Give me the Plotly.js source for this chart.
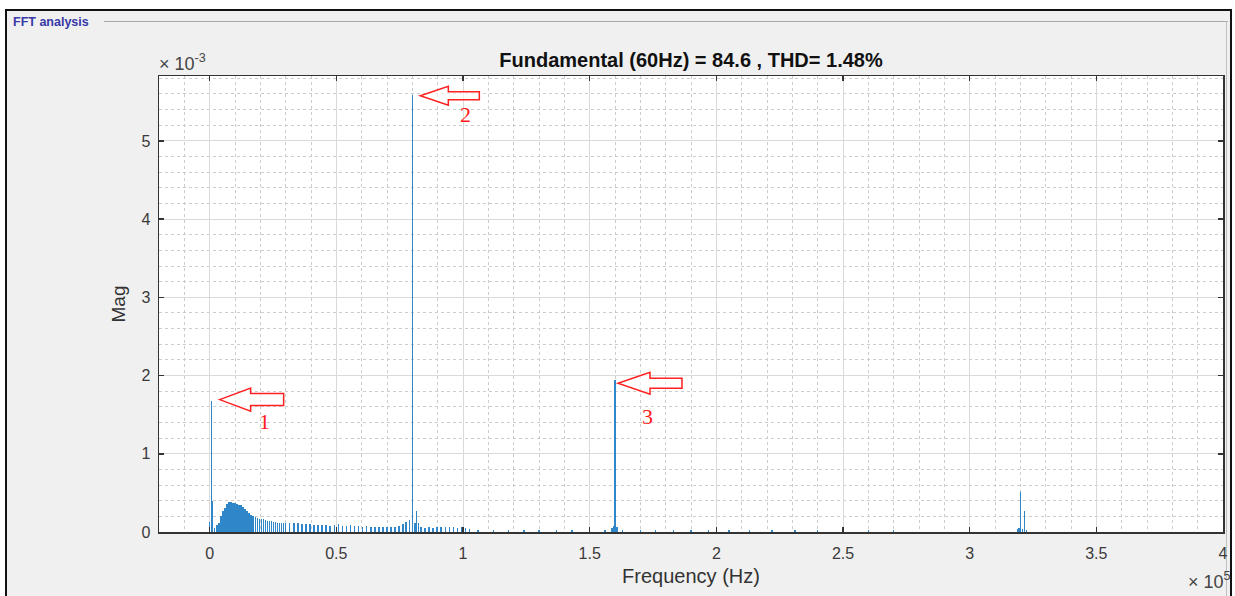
<!DOCTYPE html>
<html>
<head>
<meta charset="utf-8">
<script src="https://cdn.plot.ly/plotly-3.0.1.min.js"></script>
<style>
  html, body { margin: 0; padding: 0; background: #ffffff; width: 1235px; height: 596px; overflow: hidden; }
  #frame { position: absolute; left: 5px; top: 9px; width: 1223px; height: 600px;
           border-top: 2px solid #111; border-left: 2px solid #111; border-right: 2px solid #111;
           background: #f0f0f0; }
  #gline { position: absolute; left: 104px; top: 21px; width: 1124px; height: 1px; background: #a8a8a8; }
  #vline { position: absolute; left: 1226px; top: 21px; width: 1px; height: 580px; background: #c0c0c0; }
  #chart { position: absolute; left: 0; top: 0; width: 1235px; height: 596px; }
</style>
</head>
<body>
<div id="frame"></div>
<div id="gline"></div>
<div id="vline"></div>
<div id="chart"></div>
<script>
// ---- Data (frequency in Hz, magnitude in units of 1e-3) ----
const freqHz = [
  0, 780, 1200, 2000, 2800, 3600, 4400, 5200, 6000, 6800, 7600, 8400, 9200, 10000,
  10800, 11600, 12400, 13200, 14000, 14800, 15600, 16400, 17200, 18000, 18800, 19600,
  20400, 21200, 22000, 22800, 23600, 24400, 25200, 26000, 26800, 27600, 28400, 29200,
  30000, 31600, 33200, 34800, 36400, 38000, 39600, 41200, 42800, 44400, 46000, 47600,
  49200, 50800, 52400, 54000, 55600, 57200, 58800, 60400, 62000, 63600, 65200, 66800,
  68400, 70000, 71600, 73200, 74800, 76400, 77600, 78800, 80000, 81000, 81600, 82400,
  83400, 85000, 86600, 88200, 89800, 91400, 93000, 94600, 96200, 97800, 99400, 101000,
  102600, 106000, 112000, 118000, 124000, 130000, 137000, 143000, 150000, 156000,
  158800, 159400, 160000, 160800, 163000, 170000, 176000, 183000, 190000, 197000,
  205000, 213000, 222000, 231000, 240000, 250000, 260000, 270000,
  318800, 319400, 320000, 320800, 321600, 322400
];
const magE3 = [
  0.13, 1.68, 0.40, 0.05, 0.09, 0.12, 0.20, 0.27, 0.31, 0.36, 0.38, 0.38, 0.37, 0.37,
  0.36, 0.35, 0.34, 0.32, 0.30, 0.27, 0.24, 0.22, 0.20, 0.19, 0.18, 0.17,
  0.16, 0.16, 0.15, 0.14, 0.14, 0.14, 0.13, 0.13, 0.12, 0.12, 0.12, 0.12,
  0.11, 0.11, 0.11, 0.11, 0.10, 0.10, 0.10, 0.09, 0.09, 0.09, 0.09, 0.08,
  0.09, 0.10, 0.08, 0.08, 0.09, 0.08, 0.08, 0.07, 0.08, 0.07, 0.07, 0.06,
  0.06, 0.07, 0.06, 0.07, 0.08, 0.10, 0.13, 0.15, 5.59, 0.12, 0.27, 0.12,
  0.06, 0.05, 0.06, 0.05, 0.06, 0.07, 0.06, 0.07, 0.06, 0.05, 0.06, 0.05,
  0.04, 0.03, 0.02, 0.03, 0.02, 0.03, 0.02, 0.03, 0.02, 0.03,
  0.05, 0.08, 1.94, 0.06, 0.03, 0.03, 0.02, 0.03, 0.02, 0.02,
  0.02, 0.02, 0.02, 0.02, 0.02, 0.02, 0.02, 0.02,
  0.04, 0.05, 0.51, 0.04, 0.27, 0.03
];
const xTickVals = [0, 50000, 100000, 150000, 200000, 250000, 300000, 350000, 400000];
const xTickText = ['0', '0.5', '1', '1.5', '2', '2.5', '3', '3.5', '4'];
const yTickVals = [0, 1, 2, 3, 4, 5];
const yTickText = ['0', '1', '2', '3', '4', '5'];
const titleText = 'Fundamental (60Hz) = 84.6 , THD= 1.48%';
// marked peaks (indices into the data) and their labels
const markedIdx = [1, 70, 98];
const markLabels = ['1', '2', '3'];

// ---- Layout geometry ----
const W = 1235, H = 596;
const M = { l: 159, r: 12, t: 76, b: 64 };
const xRange = [-20000, 400000];
const yRange = [0, 5.83];
const pw = W - M.l - M.r, ph = H - M.t - M.b;
const xPerPx = (xRange[1] - xRange[0]) / pw;
const yPerPx = (yRange[1] - yRange[0]) / ph;

// arrow geometry in pixels relative to the peak top: [tipDx, tipDy, headLen, headHalf, shaftHalf, totalLen, labelDx, labelDy]
const arrowGeo = [
  [8, -1, 31, 11.5, 6, 64, 45, 22],
  [8, 1, 28, 9.5, 4, 59, 45, 19],
  [3, 3, 32, 11, 5, 64, 29, 33]
];

const shapes = [];
const annotations = [];
markedIdx.forEach((idx, k) => {
  const g = arrowGeo[k];
  const fx = freqHz[idx], fy = magE3[idx];
  const tx = fx + g[0] * xPerPx, ty = fy - g[1] * yPerPx;
  const P = (dx, dy) => (tx + dx * xPerPx) + ',' + (ty - dy * yPerPx);
  const path = 'M' + P(0, 0) + ' L' + P(g[2], -g[3]) + ' L' + P(g[2], -g[4]) +
    ' L' + P(g[5], -g[4]) + ' L' + P(g[5], g[4]) + ' L' + P(g[2], g[4]) +
    ' L' + P(g[2], g[3]) + ' Z';
  shapes.push({ type: 'path', xref: 'x', yref: 'y', path: path,
    line: { color: '#ff2020', width: 1.5 }, fillcolor: 'rgba(255,255,255,0.6)' });
  annotations.push({ xref: 'x', yref: 'y', x: tx + g[6] * xPerPx, y: ty - g[7] * yPerPx,
    text: markLabels[k], showarrow: false, xanchor: 'center', yanchor: 'middle',
    font: { family: 'Liberation Serif, DejaVu Serif, serif', size: 22, color: '#ff1a1a' } });
});

annotations.push({ xref: 'paper', yref: 'paper', x: 0, y: 1, xanchor: 'left', yanchor: 'bottom',
  yshift: 0, xshift: -2, text: '× 10<sup>-3</sup>', showarrow: false,
  font: { family: 'Liberation Sans, Arial, sans-serif', size: 18, color: '#444' } });
annotations.push({ xref: 'paper', yref: 'paper', x: 1, y: 0, xanchor: 'right', yanchor: 'middle',
  xshift: 10, yshift: -48, text: '× 10<sup>5</sup>', showarrow: false,
  font: { family: 'Liberation Sans, Arial, sans-serif', size: 18, color: '#444' } });
annotations.push({ xref: 'paper', yref: 'paper', x: (11 - M.l) / pw, y: (H - M.b - 22) / ph,
  xanchor: 'left', yanchor: 'middle', text: '<b>FFT analysis</b>', showarrow: false,
  font: { family: 'Liberation Sans, Arial, sans-serif', size: 12.5, color: '#3838a8' } });

const trace = {
  type: 'bar', x: freqHz, y: magE3, width: 600,
  marker: { color: '#2f86c9', line: { width: 0 } },
  hoverinfo: 'x+y'
};

const axFont = { family: 'Liberation Sans, Arial, sans-serif', size: 16, color: '#3a3a3a' };
const layout = {
  width: W, height: H,
  margin: M,
  paper_bgcolor: 'rgba(0,0,0,0)',
  plot_bgcolor: '#ffffff',
  showlegend: false,
  bargap: 0,
  title: { text: '<b>' + titleText + '</b>', xref: 'paper', x: 0.5, xanchor: 'center',
    yref: 'container', y: 1 - 60 / H, yanchor: 'middle',
    font: { family: 'Liberation Sans, Arial, sans-serif', size: 20, color: '#111' } },
  xaxis: {
    range: xRange, tickvals: xTickVals, ticktext: xTickText,
    ticks: 'inside', ticklen: 5, tickcolor: '#333', tickwidth: 1.5,
    showline: true, linecolor: '#333', linewidth: 1.5, mirror: 'ticks',
    showgrid: true, gridcolor: '#dadada', gridwidth: 1, zeroline: false,
    tickfont: axFont, ticklabelstandoff: 6,
    minor: { dtick: 10000, tick0: 0, showgrid: true, gridcolor: '#cccccc', griddash: 'dot', gridwidth: 1, ticks: '' },
    title: { text: 'Frequency (Hz)', standoff: 8, font: { family: 'Liberation Sans, Arial, sans-serif', size: 20, color: '#333' } },
    automargin: false
  },
  yaxis: {
    range: yRange, tickvals: yTickVals, ticktext: yTickText,
    ticks: 'inside', ticklen: 5, tickcolor: '#333', tickwidth: 1.5,
    showline: true, linecolor: '#333', linewidth: 1.5, mirror: 'ticks',
    showgrid: true, gridcolor: '#dadada', gridwidth: 1, zeroline: false,
    tickfont: axFont, ticklabelstandoff: 4,
    minor: { dtick: 0.2, tick0: 0, showgrid: true, gridcolor: '#cccccc', griddash: 'dot', gridwidth: 1, ticks: '' },
    title: { text: 'Mag', standoff: 10, font: { family: 'Liberation Sans, Arial, sans-serif', size: 19, color: '#333' } },
    automargin: false
  },
  shapes: shapes,
  annotations: annotations
};

Plotly.newPlot('chart', [trace], layout, { displayModeBar: false, staticPlot: true });
</script>
</body>
</html>
